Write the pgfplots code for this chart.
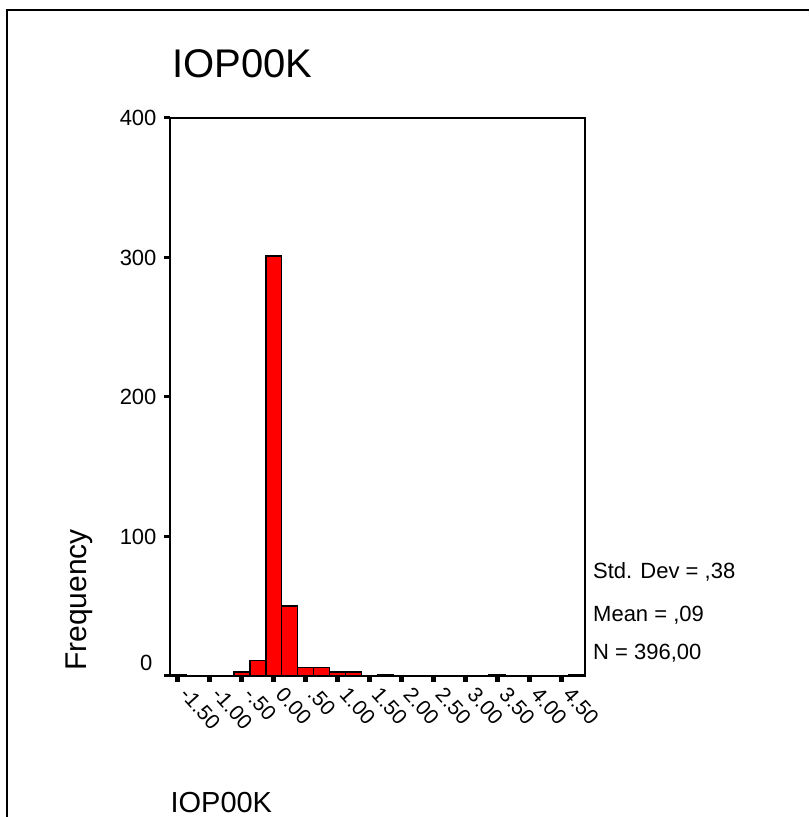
\documentclass[border=0pt]{standalone}
\usepackage{fontspec}
\setmainfont{Liberation Sans}
\usepackage{pgfplots}
\pgfplotsset{compat=1.18}
\begin{document}
\begin{tikzpicture}
\useasboundingbox (0pt,0pt) rectangle (809pt,817pt);
\draw[line width=2.5pt] (7pt,0pt) -- (7pt,807pt) -- (809pt,807pt);
\begin{axis}[
  at={(170pt,141pt)}, anchor=south west,
  width=415pt, height=558pt, scale only axis,
  xmin=-1.625, xmax=4.875, ymin=0, ymax=400,
  axis line style={line width=2pt},
  xtick={-1.5,-1,-0.5,0,0.5,1,1.5,2,2.5,3,3.5,4,4.5},
  xticklabels={-1.50,-1.00,-.50,0.00,.50,1.00,1.50,2.00,2.50,3.00,3.50,4.00,4.50},
  ytick={0,100,200,300,400},
  yticklabels={{},100,200,300,400},
  tick align=outside, tick pos=left,
  major tick length=6pt,
  xtick style={line width=5pt, black},
  ytick style={line width=3pt, black},
  xticklabel style={font=\fontsize{21}{24}\selectfont, xshift=4pt, yshift=-6pt, rotate=-48, anchor=west},
  yticklabel style={font=\fontsize{22}{24}\selectfont, xshift=-4pt},
]
\addplot[ybar, bar width=0.25, fill=red, draw=black, line width=1.5pt] coordinates {
  (-1.5,1) (-0.5,3) (-0.25,11) (0,301) (0.25,50) (0.5,6) (0.75,6)
  (1,3) (1.25,3) (1.75,1) (3.5,1) (4.75,1)
};
\end{axis}
\node[anchor=east, font=\fontsize{22}{24}\selectfont] at (156pt,154pt) {0};
\node[anchor=base west, font=\fontsize{40}{44}\selectfont] at (169pt,739pt) {IOP00K};
\node[anchor=base west, font=\fontsize{29}{32}\selectfont] at (167pt,5pt) {IOP00K};
\node[anchor=base, rotate=90, font=\fontsize{30}{32}\selectfont] at (86pt,217pt) {Frequency};
\node[anchor=west, font=\fontsize{22}{24}\selectfont, inner sep=0pt] at (593pt,245pt) {Std. Dev = ,38};
\node[anchor=west, font=\fontsize{22}{24}\selectfont, inner sep=0pt] at (593pt,202pt) {Mean = ,09};
\node[anchor=west, font=\fontsize{22}{24}\selectfont, inner sep=0pt] at (593pt,164pt) {N = 396,00};
\end{tikzpicture}
\end{document}
